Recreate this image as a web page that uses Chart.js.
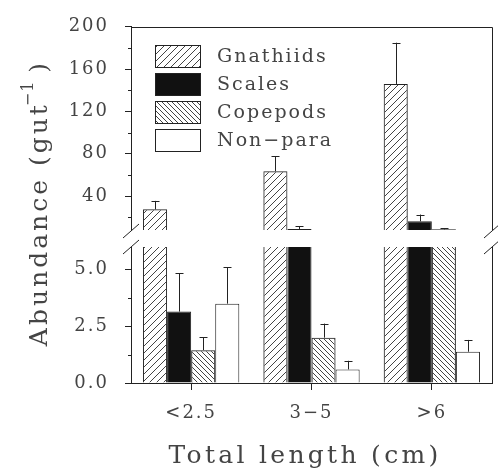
<!DOCTYPE html>
<html>
<head>
<meta charset="utf-8">
<script src="https://cdn.jsdelivr.net/npm/chart.js@4.4.0/dist/chart.umd.min.js"></script>
<style>
    html, body { margin: 0; padding: 0; background: #fff; }
    #wrap { position: relative; width: 498px; height: 470px; }
    #wrap canvas { position: absolute; left: 0; top: 0; }
</style>
</head>
<body>
<div id="wrap">
    <canvas id="upper" width="498" height="470"></canvas>
    <canvas id="lower" width="498" height="470"></canvas>
</div>
<script>
// Abundance per gut by fish size class (broken y axis)

const categories = ['<2.5', '3\u22125', '>6'];
const seriesNames = ['Gnathiids', 'Scales', 'Copepods', 'Non\u2212para'];

// means
const gnathiids = [27.5, 63.5, 146];
const scales = [3.15, 9.0, 16.2];
const copepods = [1.45, 2.0, 8.6];
const nonPara = [3.5, 0.6, 1.38];

// standard errors (upper whisker only)
const gnathiidsSE = [8, 14, 39];
const scalesSE = [1.7, 2.7, 6.4];
const copepodsSE = [0.57, 0.62, 1.0];
const nonParaSE = [1.6, 0.38, 0.52];

// axis ticks
const upperMajor = [40, 80, 120, 160, 200];
const upperMinor = [20, 60, 100, 140, 180];
const lowerMajor = [0, 2.5, 5];
const lowerMinor = [1.25, 3.75];

const seriesValues = [gnathiids, scales, copepods, nonPara];
const seriesErrors = [gnathiidsSE, scalesSE, copepodsSE, nonParaSE];

const ink = '#222';
const textInk = '#444';
const fontFamily = "'DejaVu Serif', serif";

function hatch(ctx, step, rising) {
    const c = document.createElement('canvas');
    c.width = c.height = step;
    const g = c.getContext('2d');
    g.strokeStyle = '#444';
    g.lineWidth = 1;
    g.beginPath();
    if (rising) {
        g.moveTo(0, step); g.lineTo(step, 0);
        g.moveTo(-1, 1); g.lineTo(1, -1);
        g.moveTo(step - 1, step + 1); g.lineTo(step + 1, step - 1);
    } else {
        g.moveTo(0, 0); g.lineTo(step, step);
        g.moveTo(-1, step - 1); g.lineTo(1, step + 1);
        g.moveTo(step - 1, -1); g.lineTo(step + 1, 1);
    }
    g.stroke();
    return ctx.createPattern(c, 'repeat');
}

function fills(ctx) {
    return [hatch(ctx, 7, true), '#111', hatch(ctx, 5, false), '#fff'];
}

function makeDatasets(ctx) {
    const f = fills(ctx);
    return seriesNames.map((name, i) => ({
        label: name,
        data: seriesValues[i],
        backgroundColor: f[i],
        borderColor: ink,
        borderWidth: 1,
        clip: 0,
        categoryPercentage: 0.8,
        barPercentage: 1.0
    }));
}

// upper whiskers with caps
const errorBars = {
    id: 'errorBars',
    afterDatasetsDraw(chart) {
        const { ctx, chartArea, scales: { y } } = chart;
        ctx.save();
        ctx.beginPath();
        ctx.rect(chartArea.left, chartArea.top - 1, chartArea.right - chartArea.left, chartArea.bottom - chartArea.top + 1);
        ctx.clip();
        ctx.strokeStyle = ink;
        ctx.lineWidth = 1;
        chart.data.datasets.forEach((ds, i) => {
            chart.getDatasetMeta(i).data.forEach((bar, j) => {
                const v = ds.data[j];
                const top = y.getPixelForValue(v + seriesErrors[i][j]);
                const base = y.getPixelForValue(v);
                const x = Math.round(bar.x) + 0.5;
                ctx.beginPath();
                ctx.moveTo(x, base);
                ctx.lineTo(x, top);
                ctx.moveTo(x - 4, Math.round(top) + 0.5);
                ctx.lineTo(x + 4, Math.round(top) + 0.5);
                ctx.stroke();
            });
        });
        ctx.restore();
    }
};

function minorTicks(values) {
    return {
        id: 'minorTicks',
        afterDraw(chart) {
            const { ctx, scales: { y } } = chart;
            ctx.save();
            ctx.strokeStyle = ink;
            ctx.lineWidth = 1;
            values.forEach(v => {
                const py = Math.round(y.getPixelForValue(v)) + 0.5;
                ctx.beginPath();
                ctx.moveTo(y.right - 3, py);
                ctx.lineTo(y.right, py);
                ctx.stroke();
            });
            ctx.restore();
        }
    };
}

const spacing = {
    id: 'spacing',
    beforeDraw(chart) {
        chart.ctx.letterSpacing = '2px';
    }
};

// top and right edges of the upper panel, legend
const upperDecor = {
    id: 'upperDecor',
    afterDraw(chart) {
        const { ctx, chartArea: a } = chart;
        ctx.save();
        ctx.strokeStyle = ink;
        ctx.lineWidth = 1;
        ctx.beginPath();
        ctx.moveTo(Math.round(a.left) + 0.5, Math.round(a.top) + 0.5);
        ctx.lineTo(Math.round(a.right) + 0.5, Math.round(a.top) + 0.5);
        ctx.lineTo(Math.round(a.right) + 0.5, a.bottom);
        ctx.stroke();

        ctx.font = '19px ' + fontFamily;
        ctx.letterSpacing = '2px';
        ctx.textBaseline = 'middle';
        ctx.textAlign = 'left';
        chart.data.datasets.forEach((ds, i) => {
            const top = 45.5 + i * 28;
            ctx.fillStyle = ds.backgroundColor;
            ctx.fillRect(155.5, top, 45, 22);
            ctx.strokeRect(155.5, top, 45, 22);
            ctx.fillStyle = textInk;
            ctx.fillText(ds.label, 217, top + 12);
        });
        ctx.restore();
    }
};

function breakMark(ctx, x, y) {
    ctx.beginPath();
    ctx.moveTo(x - 8, y + 7);
    ctx.lineTo(x + 8, y - 7);
    ctx.stroke();
}

// right edge of lower panel, axis breaks, axis titles
const lowerDecor = {
    id: 'lowerDecor',
    afterDraw(chart) {
        const { ctx, chartArea: a } = chart;
        ctx.save();
        ctx.strokeStyle = ink;
        ctx.lineWidth = 1;
        ctx.beginPath();
        ctx.moveTo(Math.round(a.right) + 0.5, a.top);
        ctx.lineTo(Math.round(a.right) + 0.5, a.bottom);
        ctx.stroke();

        [a.left, a.right].forEach(x => {
            breakMark(ctx, x, 231);
            breakMark(ctx, x, 247);
        });

        ctx.fillStyle = textInk;
        ctx.font = '25px ' + fontFamily;
        ctx.letterSpacing = '3.3px';
        ctx.textAlign = 'center';
        ctx.textBaseline = 'alphabetic';
        ctx.fillText('Total length (cm)', 305, 463);

        // rotated y title with superscript
        const main = 'Abundance (gut';
        const sup = '\u22121';
        const close = ')';
        ctx.translate(47, 203);
        ctx.rotate(-Math.PI / 2);
        ctx.textAlign = 'left';
        ctx.letterSpacing = '3px';
        const wMain = ctx.measureText(main).width;
        ctx.font = '16px ' + fontFamily;
        ctx.letterSpacing = '1px';
        const wSup = ctx.measureText(sup).width;
        ctx.font = '25px ' + fontFamily;
        ctx.letterSpacing = '3px';
        const wClose = ctx.measureText(close).width;
        let x0 = -(wMain + wSup + 4 + wClose) / 2;
        ctx.fillText(main, x0, 0);
        x0 += wMain;
        ctx.font = '16px ' + fontFamily;
        ctx.letterSpacing = '1px';
        ctx.fillText(sup, x0 - 4, -14);
        x0 += wSup + 4;
        ctx.font = '25px ' + fontFamily;
        ctx.letterSpacing = '3px';
        ctx.fillText(close, x0, 0);
        ctx.restore();
    }
};

const tickFont = { family: fontFamily, size: 18 };

function yAxis(min, max, major, fmt) {
    return {
        min: min,
        max: max,
        afterBuildTicks: s => { s.ticks = major.map(v => ({ value: v })); },
        afterFit: s => { s.width = 131; },
        ticks: { font: tickFont, color: textInk, padding: 16, callback: fmt },
        grid: { drawOnChartArea: false, tickLength: 6, color: ink },
        border: { color: ink }
    };
}

const upperCtx = document.getElementById('upper').getContext('2d');
new Chart(upperCtx, {
    type: 'bar',
    data: { labels: categories, datasets: makeDatasets(upperCtx) },
    options: {
        responsive: false,
        animation: false,
        layout: { padding: { left: 0, right: 6, top: 20, bottom: 240 } },
        plugins: { legend: { display: false }, tooltip: { enabled: false } },
        scales: {
            x: { display: false },
            y: yAxis(8, 200, upperMajor, v => String(v))
        }
    },
    plugins: [spacing, errorBars, minorTicks(upperMinor), upperDecor]
});

const lowerCtx = document.getElementById('lower').getContext('2d');
new Chart(lowerCtx, {
    type: 'bar',
    data: { labels: categories, datasets: makeDatasets(lowerCtx) },
    options: {
        responsive: false,
        animation: false,
        layout: { padding: { left: 0, right: 6, top: 247, bottom: 0 } },
        plugins: { legend: { display: false }, tooltip: { enabled: false } },
        scales: {
            x: {
                afterFit: s => { s.height = 87; },
                ticks: { font: tickFont, color: textInk, padding: 13 },
                grid: { offset: false, drawOnChartArea: false, tickLength: 7, color: ink },
                border: { color: ink }
            },
            y: yAxis(0, 6, lowerMajor, v => v.toFixed(1))
        }
    },
    plugins: [spacing, errorBars, minorTicks(lowerMinor), lowerDecor]
});
</script>
</body>
</html>
